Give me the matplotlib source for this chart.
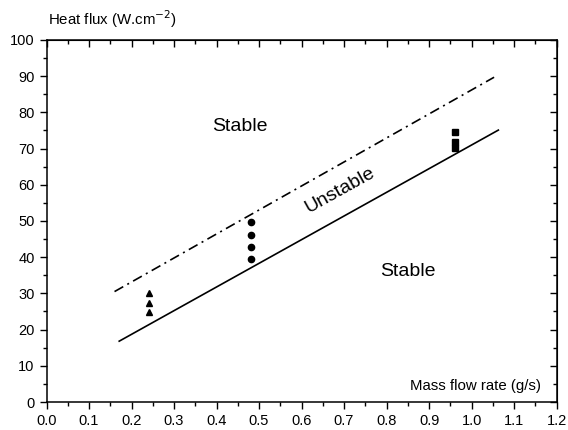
import numpy as np
import matplotlib
matplotlib.use("Agg")
import matplotlib.pyplot as plt
from matplotlib.ticker import MultipleLocator

plt.rcParams['font.family'] = ['Liberation Sans', 'DejaVu Sans']

# boundary lines (mass flow rate, heat flux)
lower_x = [0.171, 1.063]
lower_y = [16.8, 75.1]
upper_x = [0.16, 1.053]
upper_y = [30.5, 89.7]

# measured points
tri_x = [0.24, 0.24, 0.24]
tri_y = [30.2, 27.4, 24.8]
circ_x = [0.48, 0.48, 0.48, 0.48]
circ_y = [49.8, 46.2, 42.9, 39.4]
sq_x = [0.96, 0.96, 0.96]
sq_y = [74.5, 71.8, 70.1]

fig = plt.figure(figsize=(5.68, 4.30), dpi=100)
ax = fig.add_axes([0.0819, 0.0651, 0.898, 0.842])

ax.plot(lower_x, lower_y, color="black", lw=1.2)
ax.plot(upper_x, upper_y, color="black", lw=1.2, dashes=(6, 2.8, 1.2, 2.8))
ax.plot(tri_x, tri_y, "^", color="black", ms=5, ls="none")
ax.plot(circ_x, circ_y, "o", color="black", ms=4.5, ls="none")
ax.plot(sq_x, sq_y, "s", color="black", ms=4.5, ls="none")

ax.text(0.456, 76, "Stable", fontsize=14, ha="center", va="center")
ax.text(0.85, 36, "Stable", fontsize=14, ha="center", va="center")
ax.text(0.69, 58.6, "Unstable", fontsize=14, ha="center", va="center", rotation=29)

ax.set_xlim(0, 1.2)
ax.set_ylim(0, 100)
ax.xaxis.set_major_locator(MultipleLocator(0.1))
ax.xaxis.set_minor_locator(MultipleLocator(0.05))
ax.yaxis.set_major_locator(MultipleLocator(10))
ax.yaxis.set_minor_locator(MultipleLocator(5))
ax.xaxis.set_major_formatter(plt.FormatStrFormatter('%.1f'))

ax.tick_params(which="both", direction="out", labelsize=10.5, width=1, top=False, right=False)
ax.tick_params(which="major", length=5)
ax.tick_params(which="minor", length=3)
for s in ax.spines.values():
    s.set_linewidth(1.1)

# mirrored inward ticks on top and right
axt = ax.secondary_xaxis("top")
axt.xaxis.set_major_locator(MultipleLocator(0.1))
axt.xaxis.set_minor_locator(MultipleLocator(0.05))
axt.tick_params(which="both", direction="in", labeltop=False, width=1)
axt.tick_params(which="major", length=5)
axt.tick_params(which="minor", length=3)
axr = ax.secondary_yaxis("right")
axr.yaxis.set_major_locator(MultipleLocator(10))
axr.yaxis.set_minor_locator(MultipleLocator(5))
axr.tick_params(which="both", direction="in", labelright=False, width=1)
axr.tick_params(which="major", length=5)
axr.tick_params(which="minor", length=3)

fig.text(0.085, 0.955, "Heat flux (W.cm$^{-2}$)", fontsize=10.8, ha="left", va="center")
ax.text(0.97, 0.045, "Mass flow rate (g/s)", fontsize=10.8, ha="right", va="center",
        transform=ax.transAxes)

fig.savefig("out.png", dpi=100)
